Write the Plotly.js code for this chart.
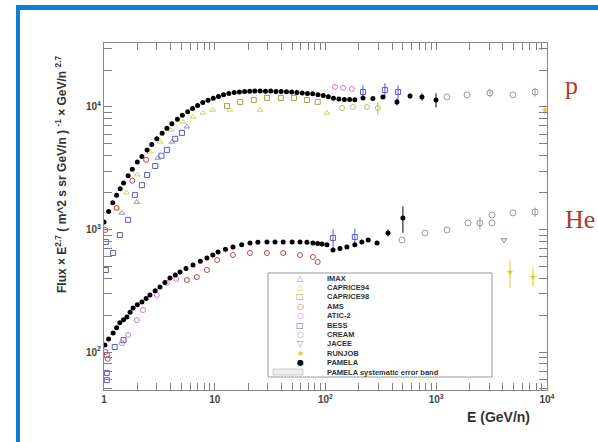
<!DOCTYPE html>
<html><head><meta charset="utf-8">
<script src="https://cdn.plot.ly/plotly-3.0.1.min.js"></script>
<style>
html,body{margin:0;padding:0;background:#fff;overflow:hidden;}
#frame{position:absolute;left:16px;top:5px;width:600px;height:460px;border-top:5px solid #0b7fd2;border-left:4px solid #0b7fd2;box-sizing:border-box;}
#chart{position:absolute;left:0;top:0;width:598px;height:442px;}
</style></head><body>
<div id="frame"></div>
<div id="chart"></div>
<script>
// ---------- data (E in GeV/n, flux x E^2.7) ----------
const pamP_E = [1.0,1.1,1.2,1.3,1.4,1.5,1.65,1.8,2.0,2.2,2.45,2.7,3.0,3.35,3.7,4.1,4.6,5.1,5.7,6.3,7.0,7.8,8.7,9.7,10.8,12,13.4,15,16.7,18.6,20.7,23,25.7,28.7,32,35.7,39.8,44.4,49.5,55.2,61.6,68.7,76.6,85.5,95.4,106,118,132,148,165,184,218,268,330,442,580,743,995];
const pamP_F = [1150,1400,1650,1900,2150,2400,2750,3100,3550,3950,4450,4950,5500,6100,6700,7300,7950,8550,9150,9700,10300,10850,11350,11800,12200,12550,12850,13100,13250,13400,13450,13500,13500,13450,13500,13400,13350,13300,13250,13150,13000,12900,12800,12600,12400,12100,11800,11600,11500,11500,11450,11850,11700,12070,11000,12290,12070,11400];
const pamP_errUp = [0,0,0,0,0,0,0,0,0,0,0,0,0,0,0,0,0,0,0,0,0,0,0,0,0,0,0,0,0,0,0,0,0,0,0,0,0,0,0,0,0,0,0,0,0,0,0,0,0,0,0,0,0,400,700,600,800,1500];
const pamP_errDn = [0,0,0,0,0,0,0,0,0,0,0,0,0,0,0,0,0,0,0,0,0,0,0,0,0,0,0,0,0,0,0,0,0,0,0,0,0,0,0,0,0,0,0,0,0,0,0,0,0,0,0,0,0,400,700,600,800,1500];
const pamHe_E = [1.02,1.1,1.21,1.3,1.39,1.5,1.61,1.72,1.83,2.0,2.2,2.4,2.6,2.9,3.2,3.55,3.94,4.4,4.86,5.5,6.36,7.4,8.5,9.6,10.7,12.5,14.6,17.5,20.8,24.5,29.6,35,41.5,50,58.9,68,77,85,93,103,117,135,156,184,213,243,292,367,500];
const pamHe_F = [114,128,143,158,173,183,193,211,229,243,256,274,292,316,340,370,402,425,450,480,513,550,585,620,655,690,720,750,776,785,790,790,790,790,790,785,776,770,762,750,680,700,720,750,790,820,776,936,1240];
const pamHe_errUp = [0,0,0,0,0,0,0,0,0,0,0,0,0,0,0,0,0,0,0,0,0,0,0,0,0,0,0,0,0,0,0,0,0,0,0,0,0,0,0,0,0,0,0,0,0,0,30,60,300];
const pamHe_errDn = [0,0,0,0,0,0,0,0,0,0,0,0,0,0,0,0,0,0,0,0,0,0,0,0,0,0,0,0,0,0,0,0,0,0,0,0,0,0,0,0,0,0,0,0,0,0,30,60,300];

const imaxP_E = [1.45,1.98,3.07,4.1,5.6];
const imaxP_F = [1365,1676,3835,5180,6900];

const bessP_E = [1.04,1.04,1.21,1.39,1.65,1.9,2.2,2.45,2.9,3.3,3.7,4.4,5.06,218,344,452];
const bessP_F = [791,467,643,902,1197,1915,2300,2785,3300,4000,4460,5500,6140,13250,13760,13250];
const bessP_err = [0,0,0,0,0,0,0,0,0,0,0,0,0,1800,1900,1800];
const bessHe_E = [1.06,1.06,1.06,1.25,1.5,117,184];
const bessHe_F = [94.6,67.5,59,110,125,853,869];
const bessHe_err = [0,0,0,0,0,150,150];

const cap94P_E = [1.3,1.6,2.0,2.6,3.2,4.0,5.17,6.36,7.8,9.6,13.7,25.6,103];
const cap94P_F = [1500,2000,2800,4300,5200,6500,7550,8280,8930,9450,9450,9450,8930];
const cap98P_E = [12.9,17,22.5,29.6,39.5,52,68,85];
const cap98P_F = [10200,10960,11400,11850,11850,11850,11400,11000];

const amsP_E = [1.03,1.3,1.8,2.4];
const amsP_F = [990,1500,2500,3700];
const amsHe_E = [1.03,1.08,5.6,6.9,8.5,10.5,14.6,20.8,29.6,41.5,58.9,77,85];
const amsHe_F = [100,88,387,409,467,563,619,643,643,643,619,597,543];

const aticP_E = [122,144,173];
const aticP_F = [14570,14300,14030];
const aticHe_E = [1.45,1.65,1.98,2.25,3.0,3.7,4.5];
const aticHe_F = [118,138,182,220,292,366,395];

const creamP_E = [141,177,237,297];
const creamP_F = [9810,10000,10000,9810];
const creamP_err = [0,0,0,1200];

const highP_E = [1250,1896,3055,4930,7800];
const highP_F = [12070,12530,13010,12530,13250];
const highP_err = [0,0,1000,0,1100];
const highHe_E = [491,791,1250,1936,2480,3190,3190,4930,7800];
const highHe_F = [820,936,990,1130,1130,1313,1130,1365,1390];
const highHe_err = [0,0,0,0,130,0,0,0,120];

const jaceeHe_E = [4090];
const jaceeHe_F = [820];

const runjobP_E = [9600];
const runjobP_F = [9450];
const runjobHe_E = [4630,7480];
const runjobHe_F = [450,409];
const runjobHe_up = [113,77];
const runjobHe_dn = [117,69];

// ticks: labelled decades plus unlabelled sub-decade ticks
const xTickVals = [1,10,100,1000,10000];
const xTickText = ['1','10','10<sup>2</sup>','10<sup>3</sup>','10<sup>4</sup>'];
const yTickVals = [100,1000,10000];
const yTickText = ['10<sup>2</sup>','10<sup>3</sup>','10<sup>4</sup>'];
const xMinor = [2,3,4,5,6,7,8,9,20,30,40,50,60,70,80,90,200,300,400,500,600,700,800,900,2000,3000,4000,5000,6000,7000,8000,9000];
const yMinor = [50,60,70,80,90,200,300,400,500,600,700,800,900,2000,3000,4000,5000,6000,7000,8000,9000,20000,30000];

const legendNames = ['IMAX','CAPRICE94','CAPRICE98','AMS','ATIC-2','BESS','CREAM','JACEE','RUNJOB','PAMELA','PAMELA systematic error band'];
const legendSymbols = ['\u25B3','\u25B3','\u25A1','\u25CB','\u25CB','\u25A1','\u25CB','\u25BD','\u2605','\u25CF',''];
const legendColors = ['#8f92b0','#cfd25a','#a8a042','#b84848','#d27ac8','#5a5ac8','#6ab46a','#8d8d5c','#e2cc20','#000000','#cccccc'];

// ---------- traces ----------
function openTrace(x, y, sym, col, size, err){
  const t = {x:x, y:y, type:'scatter', mode:'markers', showlegend:false, hoverinfo:'skip',
    marker:{symbol:sym, size:size||5, color:col, line:{color:col, width:1}}};
  if(err) t.error_y = {type:'data', array:err, arrayminus:err, color:col, thickness:1, width:0};
  return t;
}
const traces = [];
traces.push(openTrace(imaxP_E, imaxP_F, 'triangle-up-open', legendColors[0]));
traces.push(openTrace(bessP_E, bessP_F, 'square-open', legendColors[5], 5, bessP_err));
traces.push(openTrace(bessHe_E, bessHe_F, 'square-open', legendColors[5], 5, bessHe_err));
traces.push(openTrace(cap94P_E, cap94P_F, 'triangle-up-open', legendColors[1]));
traces.push(openTrace(cap98P_E, cap98P_F, 'square-open', legendColors[2]));
traces.push(openTrace(amsP_E, amsP_F, 'circle-open', legendColors[3]));
traces.push(openTrace(amsHe_E, amsHe_F, 'circle-open', legendColors[3]));
traces.push(openTrace(aticP_E, aticP_F, 'circle-open', legendColors[4]));
traces.push(openTrace(aticHe_E, aticHe_F, 'circle-open', legendColors[4]));
traces.push(openTrace(creamP_E, creamP_F, 'circle-open', '#b8c060', 5, creamP_err));
traces.push(openTrace(highP_E, highP_F, 'circle-open', '#999999', 6, highP_err));
traces.push(openTrace(highHe_E, highHe_F, 'circle-open', '#999999', 6, highHe_err));
traces.push(openTrace(jaceeHe_E, jaceeHe_F, 'triangle-down-open', legendColors[7]));
traces.push({x:runjobP_E, y:runjobP_F, type:'scatter', mode:'markers', showlegend:false, hoverinfo:'skip',
  marker:{symbol:'star', size:5, color:legendColors[8]},
  error_y:{type:'data', array:[900], arrayminus:[900], color:legendColors[8], thickness:1, width:0}});
traces.push({x:runjobHe_E, y:runjobHe_F, type:'scatter', mode:'markers', showlegend:false, hoverinfo:'skip',
  marker:{symbol:'star', size:5, color:legendColors[8]},
  error_y:{type:'data', array:runjobHe_up, arrayminus:runjobHe_dn, color:legendColors[8], thickness:1, width:0}});
traces.push({x:pamP_E, y:pamP_F, type:'scatter', mode:'markers', showlegend:false, hoverinfo:'skip',
  marker:{symbol:'circle', size:5, color:'#000'},
  error_y:{type:'data', array:pamP_errUp, arrayminus:pamP_errDn, color:'#000', thickness:1, width:0}});
traces.push({x:pamHe_E, y:pamHe_F, type:'scatter', mode:'markers', showlegend:false, hoverinfo:'skip',
  marker:{symbol:'circle', size:5, color:'#000'},
  error_y:{type:'data', array:pamHe_errUp, arrayminus:pamHe_errDn, color:'#000', thickness:1, width:0}});

// ---------- layout ----------
const ML=104, MR=51, MT=43, MB=52, W=598, H=442;
const pw = W-ML-MR, ph = H-MT-MB;
const px = v => (v-ML)/pw;
const py = v => (H-MB-v)/ph;

const tickFont = {family:'Liberation Sans, Arial, sans-serif', size:10, color:'#444', weight:'bold'};
const annotations = [];
annotations.push({xref:'paper', yref:'paper', x:px(61), y:py(174), text:'<b>Flux \u00D7 E<sup>2.7</sup> ( m^2 s sr GeV/n ) <sup>-1</sup> \u00D7 GeV/n <sup>2.7</sup></b>',
  textangle:-90, showarrow:false, xanchor:'center', yanchor:'middle', font:{family:'Liberation Sans, Arial, sans-serif', size:12, color:'#333'}});
annotations.push({xref:'paper', yref:'paper', x:px(498), y:py(417), text:'<b>E (GeV/n)</b>', showarrow:false,
  xanchor:'center', yanchor:'middle', font:{family:'Liberation Sans, Arial, sans-serif', size:14, color:'#333'}});
annotations.push({xref:'paper', yref:'paper', x:px(563), y:py(86), text:'p', showarrow:false,
  xanchor:'left', yanchor:'middle', font:{family:'Liberation Serif, Times New Roman, serif', size:26, color:'#b0392c'}});
annotations.push({xref:'paper', yref:'paper', x:px(563), y:py(219), text:'He', showarrow:false,
  xanchor:'left', yanchor:'middle', font:{family:'Liberation Serif, Times New Roman, serif', size:26, color:'#b0392c'}});

const shapes = [];
shapes.push({type:'rect', xref:'paper', yref:'paper', x0:px(268), x1:px(492), y0:py(377), y1:py(273),
  line:{color:'#999', width:1}, fillcolor:'#fff', layer:'above'});
legendNames.forEach((name,i)=>{
  const yy = 278 + 9.4*i;
  annotations.push({xref:'paper', yref:'paper', x:px(325), y:py(yy), text:'<b>'+name+'</b>', showarrow:false,
    xanchor:'left', yanchor:'middle', font:{family:'Liberation Sans, Arial, sans-serif', size:7.5, color:'#333'}});
  if(legendSymbols[i]){
    annotations.push({xref:'paper', yref:'paper', x:px(300), y:py(yy), text:legendSymbols[i], showarrow:false,
      xanchor:'center', yanchor:'middle', font:{family:'DejaVu Sans, sans-serif', size:8, color:legendColors[i]}});
  } else {
    shapes.push({type:'rect', xref:'paper', yref:'paper', x0:px(273), x1:px(303), y0:py(yy+3), y1:py(yy-3),
      line:{color:'#ccc', width:1}, fillcolor:'#eee', layer:'above'});
  }
});

// merge labelled and unlabelled tick positions
function allTicks(major, majorText, minor){
  const vals = major.concat(minor);
  const text = majorText.concat(minor.map(()=>''));
  return {vals, text};
}
const xt = allTicks(xTickVals, xTickText, xMinor);
const yt = allTicks(yTickVals, yTickText, yMinor);

const axBase = {type:'log', showgrid:false, zeroline:false, showline:true, linecolor:'#888', linewidth:1,
  mirror:'allticks', ticks:'inside', tickcolor:'#808080', tickwidth:1, tickmode:'array', tickfont:tickFont};

const layout = {
  width:W, height:H, margin:{l:ML, r:MR, t:MT, b:MB},
  paper_bgcolor:'rgba(0,0,0,0)', plot_bgcolor:'#fff', showlegend:false,
  xaxis:Object.assign({}, axBase, {range:[0,4], ticklen:7, tickvals:xt.vals, ticktext:xt.text}),
  yaxis:Object.assign({}, axBase, {range:[1.69,4.522], ticklen:8, tickvals:yt.vals, ticktext:yt.text}),
  annotations:annotations, shapes:shapes
};

Plotly.newPlot('chart', traces, layout, {staticPlot:true, displayModeBar:false});
</script></body></html>
